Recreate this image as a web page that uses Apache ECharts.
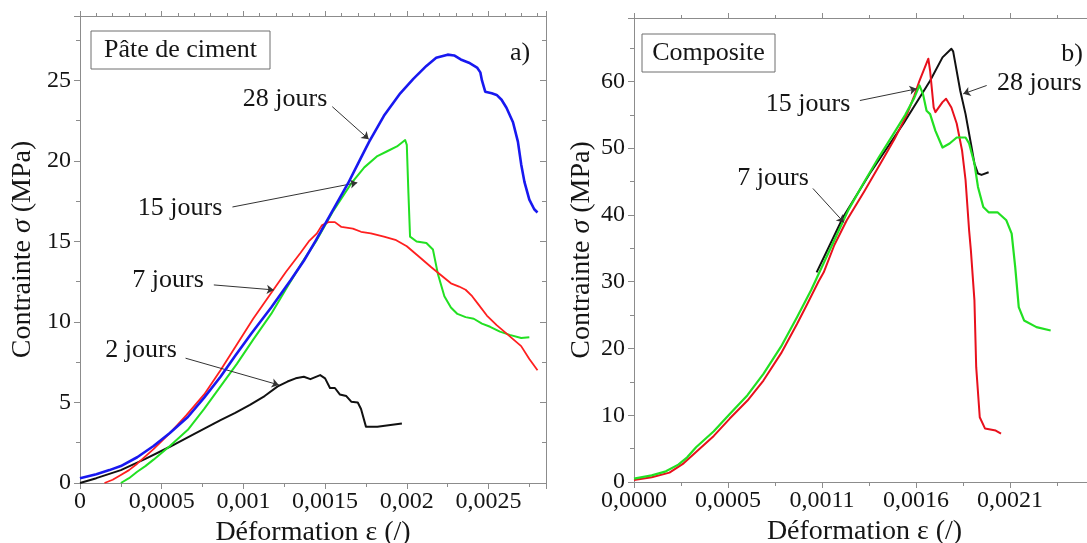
<!DOCTYPE html>
<html><head><meta charset="utf-8">
<script src="https://cdn.jsdelivr.net/npm/echarts@6/dist/echarts.min.js"></script>
<style>html,body{margin:0;padding:0;background:#fff}#c{width:1087px;height:543px}</style>
</head><body><div id="c"></div>
<script>
// ---------- DATA : panel a) Pâte de ciment ----------
const a28x = [0, 0.0001, 0.00018, 0.00025, 0.00035, 0.00045, 0.00055, 0.00066, 0.00076, 0.00086, 0.00095, 0.00105, 0.00117, 0.00129, 0.00137, 0.00144, 0.00154, 0.00164, 0.00171, 0.00177, 0.00186, 0.00196, 0.00204, 0.00212, 0.00218, 0.00225, 0.00229, 0.00233, 0.00238, 0.00243, 0.00245, 0.00246, 0.00248, 0.00252, 0.00255, 0.00258, 0.00261, 0.00265, 0.00268, 0.0027, 0.00272, 0.00275, 0.00278, 0.0028];
const a28y = [0.3, 0.55, 0.8, 1.05, 1.6, 2.3, 3.1, 4.1, 5.3, 6.6, 7.9, 9.3, 10.9, 12.6, 13.8, 15.0, 16.8, 18.6, 20.0, 21.2, 22.8, 24.2, 25.1, 25.9, 26.4, 26.6, 26.55, 26.3, 26.1, 25.8, 25.5, 25.0, 24.3, 24.2, 24.1, 23.8, 23.3, 22.4, 21.2, 19.8, 18.7, 17.6, 17.0, 16.8];
const a7x = [0.00015, 0.0002, 0.00025, 0.0003, 0.00035, 0.00045, 0.00055, 0.00065, 0.00076, 0.00086, 0.00096, 0.00106, 0.00117, 0.00126, 0.00135, 0.0014, 0.00145, 0.00148, 0.00152, 0.00156, 0.0016, 0.00167, 0.00172, 0.00178, 0.00186, 0.00193, 0.002, 0.00207, 0.00215, 0.00221, 0.00227, 0.00232, 0.00236, 0.0024, 0.00243, 0.00249, 0.00255, 0.00262, 0.0027, 0.00275, 0.0028];
const a7y = [0, 0.2, 0.5, 0.8, 1.2, 2.1, 3.1, 4.2, 5.5, 7.0, 8.6, 10.2, 11.8, 13.1, 14.3, 15.0, 15.5, 16.0, 16.2, 16.2, 15.9, 15.8, 15.6, 15.5, 15.3, 15.1, 14.7, 14.1, 13.4, 12.9, 12.4, 12.2, 12.0, 11.6, 11.2, 10.4, 9.8, 9.2, 8.5, 7.7, 7.0];
const a15x = [0.00025, 0.0003, 0.00035, 0.0004, 0.00045, 0.00055, 0.00066, 0.00076, 0.00086, 0.00096, 0.00106, 0.00117, 0.00127, 0.00136, 0.00145, 0.00155, 0.00166, 0.00174, 0.00182, 0.00188, 0.00194, 0.00199, 0.002, 0.00201, 0.00202, 0.00206, 0.00212, 0.00216, 0.00219, 0.00223, 0.00227, 0.00231, 0.00236, 0.00241, 0.00246, 0.00251, 0.00257, 0.00263, 0.0027, 0.00275];
const a15y = [0, 0.3, 0.7, 1.05, 1.45, 2.3, 3.3, 4.6, 6.0, 7.4, 8.9, 10.5, 12.2, 13.7, 15.1, 16.9, 18.6, 19.6, 20.3, 20.6, 20.9, 21.3, 21.0, 18.0, 15.3, 15.0, 14.9, 14.5, 13.0, 11.6, 10.9, 10.5, 10.3, 10.2, 9.9, 9.7, 9.4, 9.2, 9.0, 9.05];
const a2x = [0, 0.0001, 0.00025, 0.0004, 0.00055, 0.0007, 0.00086, 0.00095, 0.00104, 0.00113, 0.00121, 0.00127, 0.00132, 0.00137, 0.00141, 0.00147, 0.0015, 0.00153, 0.00156, 0.00159, 0.00163, 0.00166, 0.0017, 0.00172, 0.00175, 0.00182, 0.0019, 0.00197];
const a2y = [0, 0.3, 0.8, 1.5, 2.25, 3.05, 3.9, 4.35, 4.85, 5.4, 6.0, 6.3, 6.5, 6.6, 6.45, 6.7, 6.5, 5.9, 5.9, 5.5, 5.4, 5.05, 5.0, 4.6, 3.5, 3.5, 3.6, 3.7];

// ---------- DATA : panel b) Composite ----------
const bBlackX = [0.00103, 0.00118, 0.00133, 0.00152, 0.00167, 0.00174, 0.00179, 0.0018, 0.00184, 0.00187, 0.0019, 0.00192, 0.00194, 0.00196, 0.002];
const bBlackY = [31.4, 39.7, 46.2, 53.7, 60.1, 63.6, 64.9, 64.5, 58.6, 55.1, 50.7, 47.7, 46.2, 46.0, 46.4];
const bRedX = [0, 0.0001, 0.0002, 0.00028, 0.00035, 0.00045, 0.00054, 0.00064, 0.00073, 0.00083, 0.00092, 0.00098, 0.00104, 0.00107, 0.00113, 0.0012, 0.0013, 0.00139, 0.00147, 0.00154, 0.00158, 0.00161, 0.00166, 0.00167, 0.00169, 0.0017, 0.00174, 0.00176, 0.00179, 0.00182, 0.00185, 0.00187, 0.00189, 0.0019, 0.00192, 0.00193, 0.00195, 0.00198, 0.00204, 0.00207];
const bRedY = [0.3, 0.7, 1.4, 2.8, 4.5, 6.9, 9.5, 12.2, 15.2, 19.3, 23.7, 26.8, 30.0, 31.4, 35.5, 39.2, 43.6, 47.7, 51.4, 55.1, 57.8, 60.1, 63.4, 61.6, 56.1, 55.4, 56.9, 57.4, 56.1, 53.7, 49.7, 45.2, 37.7, 34.7, 27.2, 17.2, 9.7, 8.0, 7.7, 7.25];
const bGreenX = [0, 0.0001, 0.00018, 0.00025, 0.0003, 0.00035, 0.00045, 0.00054, 0.00064, 0.00073, 0.00083, 0.00092, 0.001, 0.00107, 0.00114, 0.00121, 0.0013, 0.00138, 0.00146, 0.00153, 0.00158, 0.00161, 0.00163, 0.00165, 0.00167, 0.0017, 0.00174, 0.00178, 0.00182, 0.00187, 0.00189, 0.00192, 0.00194, 0.00197, 0.002, 0.00205, 0.0021, 0.00213, 0.00215, 0.00217, 0.0022, 0.00227, 0.00235];
const bGreenY = [0.5, 1.0, 1.6, 2.6, 3.7, 5.2, 7.6, 10.2, 13.0, 16.2, 20.3, 24.7, 28.8, 32.8, 36.8, 40.8, 45.0, 48.6, 52.0, 55.0, 57.5, 59.4, 58.1, 55.6, 55.1, 52.6, 50.1, 50.7, 51.6, 51.6, 50.7, 47.7, 44.2, 41.2, 40.4, 40.4, 39.2, 37.2, 32.2, 26.2, 24.2, 23.2, 22.7];

// axis ranges / ticks
const aXmax = 0.002852, aXint = 0.0005, aYmax = 29, aYint = 5;
const bXmax = 0.0026, bXint = 0.00053, bYmax = 69.5, bYint = 10;

// annotation arrows [x1,y1,x2,y2] in data units
const aArrows = [[0.001544, 23.37, 0.001767, 21.35], [0.000933, 17.14, 0.001697, 18.65], [0.000819, 12.30, 0.001186, 11.99], [0.000646, 7.75, 0.001217, 6.09]];
const bArrows = [[0.001274, 57.14, 0.001594, 58.89], [0.001989, 59.39, 0.001857, 58.14], [0.001009, 43.97, 0.001184, 38.88]];

const zip = (xs, ys) => xs.map((x, i) => [x, ys[i]]);
const FONT = '"Liberation Serif", "Times New Roman", serif';
const AX = '#8c8c8c', TXT = '#151515';

function xAxes(g, max, interval, fmt, minorBottom, minorTop) {
  return [{
    type: 'value', gridIndex: g, position: 'bottom', min: 0, max, interval,
    axisLine: {show: true, onZero: false, lineStyle: {color: AX, width: 1}},
    axisTick: {show: true, inside: false, length: 6, lineStyle: {color: AX}},
    minorTick: {show: true, splitNumber: minorBottom, length: 4, lineStyle: {color: AX}},
    splitLine: {show: false}, minorSplitLine: {show: false},
    axisLabel: {show: true, margin: 7, color: TXT, fontFamily: FONT, fontSize: 24, formatter: fmt, showMaxLabel: false},
    name: 'Déformation ε (/)', nameLocation: 'middle', nameGap: 33,
    nameTextStyle: {color: TXT, fontFamily: FONT, fontSize: 28}
  }, {
    type: 'value', gridIndex: g, position: 'top', min: 0, max, interval,
    axisLine: {show: true, onZero: false, lineStyle: {color: AX, width: 1}},
    axisTick: {show: true, inside: false, length: 5, lineStyle: {color: AX}},
    minorTick: {show: true, splitNumber: minorTop, length: 3, lineStyle: {color: AX}},
    splitLine: {show: false}, axisLabel: {show: false}
  }];
}
function yAxes(g, max, interval, gap) {
  return [{
    type: 'value', gridIndex: g, position: 'left', min: 0, max, interval,
    axisLine: {show: true, onZero: false, lineStyle: {color: AX, width: 1}},
    axisTick: {show: true, inside: false, length: 6, lineStyle: {color: AX}},
    minorTick: {show: true, splitNumber: 2, length: 4, lineStyle: {color: AX}},
    splitLine: {show: false},
    axisLabel: {show: true, margin: 9, color: TXT, fontFamily: FONT, fontSize: 24, showMaxLabel: false},
    name: 'Contrainte {i|σ} (MPa)', nameLocation: 'middle', nameGap: gap,
    nameTextStyle: {color: TXT, fontFamily: FONT, fontSize: 28,
      rich: {i: {fontStyle: 'italic', fontFamily: FONT, fontSize: 28, color: TXT}}}
  }, {
    type: 'value', gridIndex: g, position: 'right', min: 0, max, interval,
    axisLine: {show: true, onZero: false, lineStyle: {color: AX, width: 1}},
    axisTick: {show: true, inside: true, length: 6, lineStyle: {color: AX}},
    minorTick: {show: true, splitNumber: 2, length: 4, lineStyle: {color: AX}},
    splitLine: {show: false}, axisLabel: {show: false}
  }];
}
const fmtA = v => v === 0 ? '0' : String(+v.toFixed(5)).replace('.', ',');
const fmtB = v => v.toFixed(4).replace('.', ',');

function curve(name, xi, yi, xs, ys, color, w, z) {
  return {type: 'line', name, xAxisIndex: xi, yAxisIndex: yi, data: zip(xs, ys),
    showSymbol: false, symbol: 'none', clip: false, z,
    lineStyle: {color, width: w, join: 'round'}, animation: false};
}
function arrows(list) {
  return {silent: true, symbol: ['none', 'arrow'], symbolSize: 7, animation: false,
    label: {show: false}, lineStyle: {type: 'solid', color: '#333', width: 1},
    data: list.map(a => [{coord: [a[0], a[1]]}, {coord: [a[2], a[3]]}])};
}

const sA2 = curve('2 jours', 0, 0, a2x, a2y, '#111111', 2, 2);
sA2.markLine = arrows(aArrows);
const sB28 = curve('28 jours', 2, 2, bBlackX, bBlackY, '#111111', 2, 2);
sB28.markLine = arrows(bArrows);

function txt(x, y, s, size, align) {
  return {type: 'text', x, y, z: 50, style: {text: s, fontFamily: FONT, fontSize: size, fill: TXT,
    align: align || 'center', verticalAlign: 'middle'}};
}
function box(x, y, w, h) {
  return {type: 'rect', z: 40, shape: {x, y, width: w, height: h},
    style: {fill: '#fff', stroke: '#6e6e6e', lineWidth: 1}};
}

const option = {
  backgroundColor: '#fff', animation: false,
  grid: [
    {left: 80, top: 16, width: 466, height: 467, containLabel: false, outerBoundsMode: 'none'},
    {left: 634, top: 18, width: 461, height: 464, containLabel: false, outerBoundsMode: 'none'}
  ],
  xAxis: [...xAxes(0, aXmax, aXint, fmtA, 2, 5), ...xAxes(1, bXmax, bXint, fmtB, 2, 2)],
  yAxis: [...yAxes(0, aYmax, aYint, 43), ...yAxes(1, bYmax, bYint, 38)],
  series: [
    sA2,
    curve('15 jours', 0, 0, a15x, a15y, '#22e022', 2, 3),
    curve('7 jours', 0, 0, a7x, a7y, '#ff1f1f', 1.8, 4),
    curve('28 jours', 0, 0, a28x, a28y, '#1818f0', 2.6, 5),
    sB28,
    curve('7 jours', 2, 2, bRedX, bRedY, '#e8101c', 2, 3),
    curve('15 jours', 2, 2, bGreenX, bGreenY, '#22e022', 2.2, 4)
  ],
  graphic: [
    box(91, 31, 179, 38), txt(180.5, 50, 'Pâte de ciment', 26),
    txt(520, 53, 'a)', 26),
    txt(285, 99, '28 jours', 26), txt(180, 208, '15 jours', 26),
    txt(168, 280, '7 jours', 26), txt(141, 350, '2 jours', 26),
    box(642, 34, 133, 38), txt(708.5, 53, 'Composite', 26),
    txt(1072, 54, 'b)', 26),
    txt(808, 104, '15 jours', 26), txt(997, 83, '28 jours', 26, 'left'),
    txt(773, 178, '7 jours', 26)
  ]
};
const chart = echarts.init(document.getElementById('c'), null, {renderer: 'canvas'});
chart.setOption(option);
</script></body></html>
